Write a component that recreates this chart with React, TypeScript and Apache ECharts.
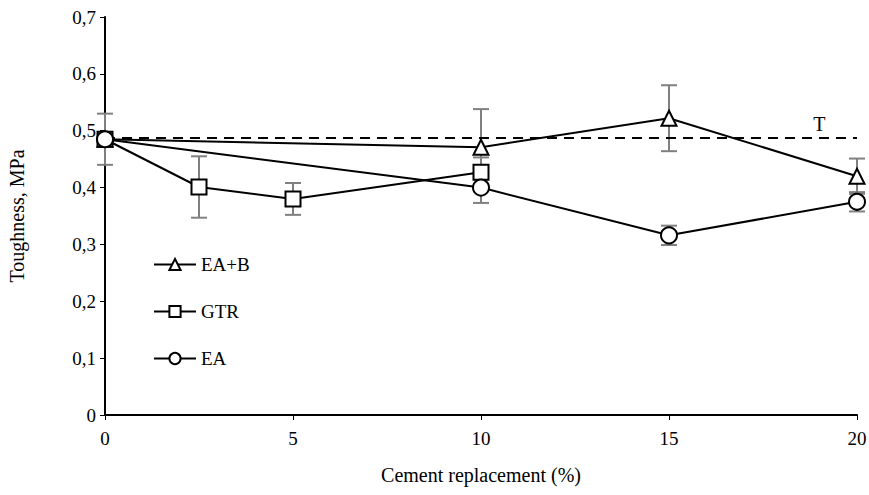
import React, { useEffect, useRef } from "react";
import * as echarts from "echarts";

const eaB_x = [0, 10, 15, 20];
const eaB_y = [0.485, 0.471, 0.522, 0.42];
const eaB_err = [0.045, 0.067, 0.058, 0.031];

const gtr_x = [0, 2.5, 5, 10];
const gtr_y = [0.485, 0.401, 0.38, 0.427];
const gtr_err = [0, 0.054, 0.028, 0.026];

const ea_x = [0, 10, 15, 20];
const ea_y = [0.485, 0.4, 0.316, 0.375];
const ea_err = [0, 0.027, 0.017, 0.017];

const thresholdY = 0.487;
const thresholdLabel = "T";
const xTicks = [0, 5, 10, 15, 20];

const FONT = "Liberation Serif";

function pts(xs: number[], ys: number[]) {
  return xs.map((x, i) => [x, ys[i]]);
}
function errs(xs: number[], ys: number[], es: number[]) {
  return xs
    .map((x, i) => [x, ys[i] - es[i], ys[i] + es[i]])
    .filter((d, i) => es[i] > 0);
}

export default function App() {
  const ref = useRef<HTMLDivElement>(null);
  useEffect(() => {
    const chart = echarts.init(ref.current!, null, { renderer: "svg" });
    const errSeries = (name: string, data: number[][]) => ({
      type: "custom",
      name: name + "_err",
      z: 1,
      silent: true,
      renderItem: (params: any, api: any) => {
        const x = api.value(0);
        const lo = api.coord([x, api.value(1)]);
        const hi = api.coord([x, api.value(2)]);
        const w = 8;
        const style = { stroke: "#808080", lineWidth: 2 };
        return {
          type: "group",
          children: [
            { type: "line", shape: { x1: lo[0], y1: lo[1], x2: hi[0], y2: hi[1] }, style },
            { type: "line", shape: { x1: lo[0] - w, y1: lo[1], x2: lo[0] + w, y2: lo[1] }, style },
            { type: "line", shape: { x1: hi[0] - w, y1: hi[1], x2: hi[0] + w, y2: hi[1] }, style },
          ],
        };
      },
      data,
    });
    const lineSeries = (name: string, data: number[][], symbol: string, size: number) => ({
      type: "line",
      name,
      data,
      z: 3,
      symbol,
      symbolSize: size,
      showAllSymbol: true,
      lineStyle: { color: "#000", width: 2 },
      itemStyle: { color: "#fff", borderColor: "#000", borderWidth: 2 },
    });
    chart.setOption({
      animation: false,
      backgroundColor: "#fff",
      grid: { left: 105, right: 12, top: 17, bottom: 80, containLabel: false, outerBoundsMode: "none" },
      legend: {
        orient: "vertical",
        left: 148,
        top: 250,
        itemWidth: 42,
        itemHeight: 14,
        itemGap: 28,
        data: ["EA+B", "GTR", "EA"],
        textStyle: { fontFamily: FONT, fontSize: 19, color: "#000" },
      },
      xAxis: {
        type: "value",
        min: 0,
        max: 20,
        interval: 5,
        name: "Cement replacement (%)",
        nameLocation: "middle",
        nameGap: 50,
        nameTextStyle: { fontFamily: FONT, fontSize: 20, color: "#000" },
        axisLine: { lineStyle: { color: "#000", width: 2 } },
        axisTick: { show: true, length: 5, lineStyle: { color: "#000", width: 1 } },
        axisLabel: { fontFamily: FONT, fontSize: 19, color: "#000", margin: 14 },
        splitLine: { show: false },
      },
      yAxis: {
        type: "value",
        min: 0,
        max: 0.7,
        interval: 0.1,
        name: "Toughness, MPa",
        nameLocation: "middle",
        nameGap: 78,
        nameTextStyle: { fontFamily: FONT, fontSize: 20, color: "#000" },
        axisLine: { show: true, lineStyle: { color: "#000", width: 2 } },
        axisTick: { show: true, length: 5, lineStyle: { color: "#000", width: 1 } },
        axisLabel: {
          fontFamily: FONT,
          fontSize: 19,
          color: "#000",
          margin: 9,
          formatter: (v: number) => (Math.round(v * 10) / 10).toString().replace(".", ","),
        },
        splitLine: { show: false },
      },
      series: [
        errSeries("EA+B", errs(eaB_x, eaB_y, eaB_err)),
        errSeries("GTR", errs(gtr_x, gtr_y, gtr_err)),
        errSeries("EA", errs(ea_x, ea_y, ea_err)),
        {
          type: "line",
          name: "threshold",
          data: [
            [xTicks[0], thresholdY],
            [xTicks[xTicks.length - 1], thresholdY],
          ],
          symbol: "none",
          z: 2,
          lineStyle: { color: "#000", width: 2, type: [10, 7] },
          markPoint: {
            symbol: "circle",
            symbolSize: 0,
            data: [{ coord: [19, 0.512] }],
            label: {
              show: true,
              formatter: thresholdLabel,
              fontFamily: FONT,
              fontSize: 20,
              color: "#000",
            },
          },
        },
        lineSeries("EA+B", pts(eaB_x, eaB_y), "triangle", 15),
        lineSeries("GTR", pts(gtr_x, gtr_y), "rect", 15),
        lineSeries("EA", pts(ea_x, ea_y), "circle", 16),
      ],
    });
    return () => chart.dispose();
  }, []);
  return (
    <div
      ref={ref}
      style={{ position: "absolute", left: 0, top: 0, width: 869, height: 495 }}
    />
  );
}
